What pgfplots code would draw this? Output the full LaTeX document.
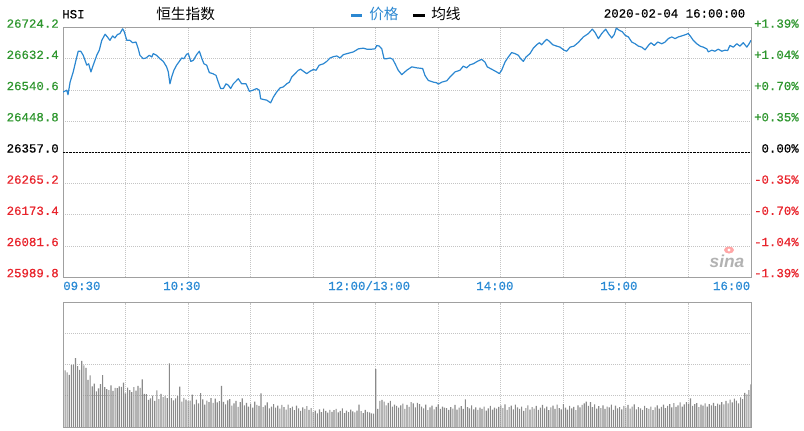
\documentclass[border=0pt]{standalone}
\usepackage{pgfplots}
\usepackage{pgfplotstable}
\pgfplotsset{compat=1.18}
\usepackage{fontspec}
\setmainfont{Liberation Sans}
\newfontfamily\mono[FakeBold=0.6]{Liberation Mono}
\newfontfamily\cjk{Noto Sans CJK SC}
\definecolor{pblue}{HTML}{2B87D1}
\definecolor{lgreen}{HTML}{2E962E}
\definecolor{lred}{HTML}{E8232B}
\definecolor{xblue}{HTML}{2A8AD4}
\definecolor{gridc}{HTML}{C4C4C4}
\definecolor{framec}{HTML}{A0A0A0}
\definecolor{volc}{HTML}{8A8A8A}
\newcommand\mf{\mono\fontsize{9.3pt}{10pt}\selectfont}
\newcommand\cf{\cjk\fontsize{11pt}{12pt}\selectfont}

\pgfplotstableread[row sep=\\]{
v\\
182\\176\\168\\199\\201\\222\\196\\184\\213\\
198\\190\\152\\166\\131\\140\\115\\124\\138\\167\\
128\\122\\119\\134\\116\\126\\125\\131\\129\\143\\
108\\127\\119\\112\\128\\117\\132\\126\\153\\107\\
106\\87\\92\\101\\84\\118\\90\\107\\96\\100\\
93\\205\\93\\86\\92\\99\\130\\82\\94\\88\\
84\\85\\104\\73\\88\\76\\109\\89\\72\\85\\
80\\93\\78\\91\\79\\83\\132\\81\\73\\86\\
90\\69\\76\\84\\65\\80\\92\\70\\78\\66\\
75\\62\\82\\71\\68\\108\\64\\70\\79\\60\\
66\\74\\62\\69\\59\\71\\64\\56\\72\\61\\
66\\54\\69\\60\\52\\63\\58\\67\\55\\61\\
49\\53\\44\\57\\48\\59\\52\\46\\55\\49\\
54\\58\\47\\52\\60\\45\\53\\48\\56\\50\\
47\\53\\72\\51\\45\\55\\49\\47\\44\\43\\
186\\58\\84\\87\\82\\70\\78\\84\\66\\72\\
68\\62\\70\\75\\58\\71\\65\\80\\76\\63\\
78\\74\\66\\60\\72\\54\\63\\69\\57\\65\\
73\\58\\66\\62\\61\\55\\64\\59\\71\\56\\
62\\67\\58\\89\\64\\60\\70\\57\\63\\55\\
62\\58\\66\\53\\60\\68\\56\\62\\59\\65\\
70\\61\\73\\55\\64\\69\\57\\72\\63\\58\\
66\\52\\61\\70\\56\\64\\59\\68\\55\\62\\
71\\60\\66\\54\\63\\69\\58\\72\\61\\57\\
74\\62\\56\\68\\60\\65\\54\\70\\63\\71\\
76\\82\\68\\80\\64\\73\\59\\67\\61\\70\\
58\\66\\63\\72\\55\\69\\60\\64\\57\\68\\
62\\71\\59\\66\\73\\57\\64\\60\\55\\68\\
61\\58\\66\\54\\63\\70\\59\\65\\72\\61\\
68\\74\\63\\77\\65\\70\\79\\66\\73\\80\\
75\\92\\68\\74\\77\\64\\72\\69\\76\\66\\
74\\70\\78\\67\\75\\72\\80\\73\\84\\76\\
88\\79\\91\\85\\76\\95\\90\\110\\105\\119\\
137\\
}\voltab

\begin{document}
\begin{tikzpicture}[x=0.75pt,y=0.75pt]
\path[use as bounding box] (0,0) rectangle (804,430);

\pgfplotsset{
  common/.style={
    scale only axis, width=516pt,
    xmin=0, xmax=330, xtick={0,30,...,330},
    scaled ticks=false,
    grid=major,
    major grid style={draw=gridc, line width=0.75pt, dash pattern=on 0.75pt off 0.75pt},
    axis line style={draw=framec, line width=0.75pt},
    tick style={draw=none},
    xticklabels={}, yticklabels={},
    anchor=south west,
  }
}

% price panel
\begin{axis}[common,
  at={(47.25pt,114.6pt)}, height=187.125pt,
  ymin=25989.8, ymax=26724.2,
  ytick={25989.8,26081.6,26173.4,26265.2,26357.0,26448.8,26540.6,26632.4,26724.2},
]
\addplot[black, line width=0.9pt, dash pattern=on 1.6pt off 0.8pt] coordinates {(0,26357) (330,26357)};
\addplot[pblue, line width=0.9pt, line join=round] coordinates {
(0,26535) (1.8,26540) (2.4,26527) (3.4,26564) (4.9,26594) (6.2,26628) (7.3,26655) (8.5,26655) (9.7,26643) (11.4,26614) (12.3,26618) (13.4,26594) (14.5,26614) (16.2,26643) (17.4,26658) (18.6,26687) (20.2,26705) (21.3,26697) (22.5,26687) (23.8,26700) (24.9,26694) (26.1,26704) (27.3,26707) (28.6,26721) (29.4,26712) (30.6,26687) (32.1,26687) (33.4,26680) (35.0,26682) (36.1,26662) (36.9,26643) (38.5,26633) (39.8,26635) (41.4,26643) (42.6,26638) (43.3,26648) (44.9,26643) (46.5,26633) (48.1,26625) (49.7,26609) (50.5,26594) (51.3,26559) (52.1,26579) (53.2,26599) (54.5,26614) (55.8,26625) (56.9,26635) (58.0,26633) (59.3,26646) (60.1,26648) (61.3,26625) (62.5,26628) (64.1,26645) (65.4,26655) (66.5,26635) (67.6,26618) (68.9,26614) (70.2,26592) (71.8,26589) (73.4,26584) (74.5,26564) (75.6,26545) (76.9,26545) (78.2,26559) (79.3,26555) (80.4,26545) (81.7,26559) (84.1,26574) (85.7,26559) (87.8,26559) (89.4,26537) (91.0,26540) (92.9,26545) (94.2,26540) (94.8,26515) (96.1,26513) (97.7,26511) (99.6,26503) (100.9,26520) (102.5,26535) (104.1,26547) (105.7,26550) (107.3,26559) (108.6,26564) (109.7,26579) (111.3,26589) (112.9,26599) (114.0,26602) (115.3,26596) (116.9,26589) (118.5,26596) (120.1,26601) (121.4,26599) (122.9,26614) (124.9,26618) (126.5,26625) (128.1,26635) (129.7,26639) (131.3,26641) (132.9,26635) (134.5,26645) (136.9,26649) (139.3,26653) (141.7,26662) (144.1,26664) (145.7,26661) (148.1,26661) (149.7,26662) (150.5,26672) (151.7,26670) (152.9,26662) (154.0,26633) (155.3,26633) (156.9,26635) (158.2,26631) (159.3,26618) (160.8,26599) (162.5,26586) (163.6,26592) (164.9,26599) (167.3,26609) (169.7,26606) (172.5,26604) (173.6,26584) (175.2,26569) (177.6,26564) (179.3,26562) (180.0,26558) (181.7,26564) (184.1,26568) (185.6,26579) (188.0,26594) (190.4,26599) (192.0,26611) (193.6,26606) (195.2,26615) (196.8,26618) (198.7,26625) (200.8,26631) (202.4,26623) (203.5,26609) (205.6,26602) (208.0,26594) (209.3,26589) (210.4,26599) (212.0,26623) (213.6,26638) (215.2,26651) (216.8,26648) (218.4,26643) (219.5,26633) (220.8,26625) (222.1,26638) (224.0,26648) (225.6,26664) (227.2,26674) (228.5,26680) (229.6,26674) (230.7,26682) (232.0,26690) (233.3,26684) (234.9,26674) (236.8,26670) (238.4,26667) (240.3,26658) (241.6,26655) (243.2,26667) (245.1,26670) (247.2,26681) (249.6,26697) (252.0,26707) (253.9,26720) (255.2,26710) (256.8,26692) (258.4,26707) (260.3,26720) (261.6,26707) (263.2,26694) (264.4,26704) (265.4,26723) (266.7,26717) (268.3,26712) (269.6,26702) (271.2,26697) (272.8,26682) (274.4,26677) (276.0,26670) (277.6,26667) (279.2,26659) (280.8,26672) (282.0,26680) (283.6,26672) (285.3,26682) (287.2,26677) (288.8,26682) (290.3,26692) (292.0,26697) (293.6,26692) (295.1,26697) (296.8,26700) (298.7,26704) (299.9,26707) (301.2,26697) (302.3,26687) (304.0,26677) (305.6,26670) (307.1,26667) (308.8,26662) (309.5,26653) (311.2,26658) (312.7,26655) (314.3,26661) (316.0,26655) (317.5,26658) (318.8,26657) (319.9,26672) (321.5,26667) (323.2,26677) (324.7,26670) (326.3,26680) (328.0,26667) (329.1,26677) (330,26687)
};
\end{axis}

% volume panel
\begin{axis}[common,
  at={(47.25pt,2.25pt)}, height=93.2pt,
  ymin=0, ymax=400, ytick={0,100,200,300,400},
  ybar, bar width=0.85pt,
]
\addplot[fill=volc, draw=none] table[x expr=\coordindex+1, y=v] {\voltab};
\end{axis}

% left value labels
\begin{scope}[every node/.style={anchor=base east, inner sep=0pt}]
\node[text=lgreen] at (59,402.3) {\mf 26724.2};
\node[text=lgreen] at (59,371.1) {\mf 26632.4};
\node[text=lgreen] at (59,339.9) {\mf 26540.6};
\node[text=lgreen] at (59,308.7) {\mf 26448.8};
\node[text=black]  at (59,277.5) {\mf 26357.0};
\node[text=lred]   at (59,246.3) {\mf 26265.2};
\node[text=lred]   at (59,215.1) {\mf 26173.4};
\node[text=lred]   at (59,183.9) {\mf 26081.6};
\node[text=lred]   at (59,152.8) {\mf 25989.8};
% right percent labels
\node[text=lgreen] at (799,402.3) {\mf +1.39\%};
\node[text=lgreen] at (799,371.1) {\mf +1.04\%};
\node[text=lgreen] at (799,339.9) {\mf +0.70\%};
\node[text=lgreen] at (799,308.7) {\mf +0.35\%};
\node[text=black]  at (799,277.5) {\mf 0.00\%};
\node[text=lred]   at (799,246.3) {\mf -0.35\%};
\node[text=lred]   at (799,215.1) {\mf -0.70\%};
\node[text=lred]   at (799,183.9) {\mf -1.04\%};
\node[text=lred]   at (799,152.8) {\mf -1.39\%};
\node[text=xblue] at (750.5,140) {\mf 16:00};
\node[text=black] at (745.5,412.5) {\mf 2020-02-04 16:00:00};
\end{scope}
\begin{scope}[every node/.style={anchor=base west, inner sep=0pt}]
\node[text=xblue] at (63,140) {\mf 09:30};
\node[text=xblue] at (163,140) {\mf 10:30};
\node[text=xblue] at (328,140) {\mf 12:00/13:00};
\node[text=xblue] at (476,140) {\mf 14:00};
\node[text=xblue] at (600,140) {\mf 15:00};
\node[text=black] at (62,411.7) {\mf HSI};
\end{scope}

% title and legend
\node[anchor=west, inner sep=0pt] at (156,416) {\cf 恒生指数};
\draw[pblue, line width=2pt] (351,414.7) -- (362,414.7);
\node[anchor=west, inner sep=0pt, text=pblue] at (369,416) {\cf 价格};
\draw[black, line width=2pt] (413,414.7) -- (424.5,414.7);
\node[anchor=west, inner sep=0pt] at (431,416) {\cf 均线};

% sina watermark
\fill[red!35] (729,180) ellipse (5 and 3.5);
\fill[white] (729,180) circle (1.6);
\node[anchor=center, inner sep=0pt, text=black!30] at (727,169) {\fontsize{13pt}{14pt}\selectfont\bfseries\itshape sina};
\end{tikzpicture}
\end{document}
